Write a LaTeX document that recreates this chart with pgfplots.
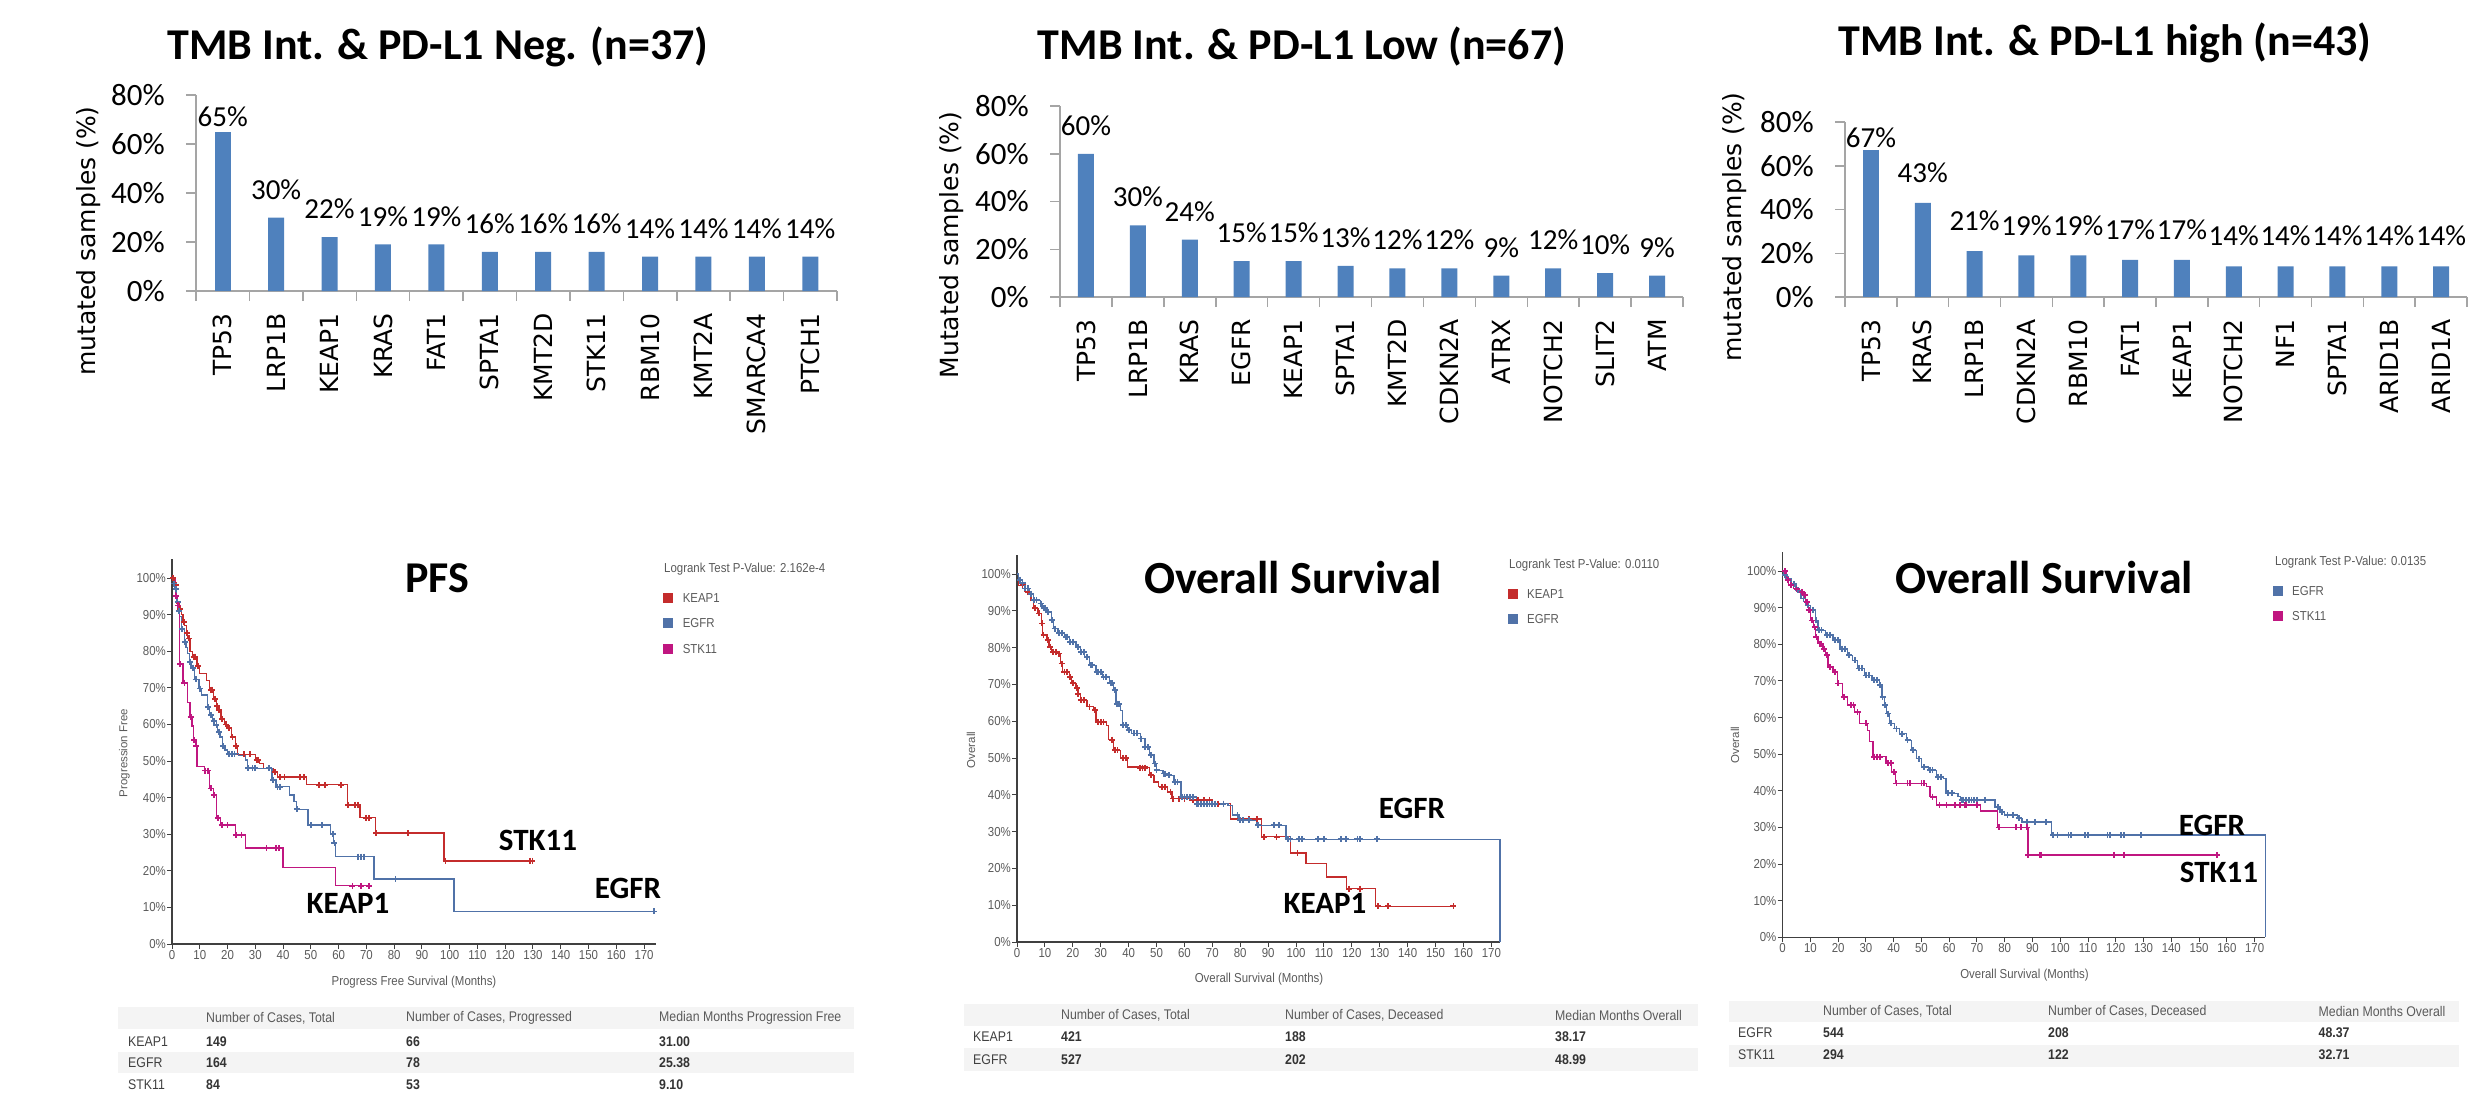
\documentclass[border=0pt]{standalone}
\usepackage{fontspec}
\usepackage{pgfplots}
\pgfplotsset{compat=1.18}
\setmainfont{Carlito}
\newfontfamily\verd{DejaVu Sans}
\newfontfamily\narrow[FakeStretch=0.88]{Liberation Sans}
\newfontfamily\arial{Liberation Sans}
\newcommand{\fsz}[1]{\fontsize{#1pt}{#1pt}\selectfont}
\definecolor{barblue}{RGB}{79,129,189}
\definecolor{kred}{RGB}{196,44,44}
\definecolor{kblue}{RGB}{80,114,168}
\definecolor{kmag}{RGB}{192,22,128}
\definecolor{axgray}{RGB}{165,165,165}
\definecolor{tgray}{RGB}{90,90,90}
\definecolor{band}{RGB}{244,244,244}
\pgfplotsset{
  barchart/.style={
    scale only axis, anchor=south west,
    ybar, bar width=16pt, bar shift=0pt,
    ymin=0, ymax=80, ytick={0,20,...,80},
    yticklabel={\pgfmathprintnumber{\tick}\%},
    xmin=-0.5, xmax=11.5, xtick={-0.5,0.5,...,11.5}, x tick label as interval,
    axis x line*=bottom, axis y line*=left,
    axis line style={axgray, line width=1.5pt},
    tick style={axgray, line width=1.5pt},
    tick align=outside, major tick length=10pt,
    /pgf/number format/assume math mode=true,
    yticklabel style={font=\fsz{31}, inner sep=0pt, xshift=-21pt},
    xticklabel style={font=\verd\fsz{25}, yshift=-12pt, rotate=90, anchor=east, inner sep=0pt},
    nodes near coords={\pgfmathprintnumber{\pgfplotspointmeta}\%},
    every node near coord/.append style={font=\fsz{29}, anchor=south, inner sep=0pt},
  },
  km/.style={
    scale only axis, anchor=south west, clip=false,
    xmin=0, ymin=0, ymax=105.2,
    axis x line*=bottom, axis y line*=left,
    axis line style={black!75, line width=1.2pt},
    xtick={0,10,...,170}, ytick={0,10,...,100},
    yticklabel={\pgfmathprintnumber{\tick}\%},
    tick align=outside, major tick length=5pt, tick style={black!75, line width=1pt},
    tick label style={font=\narrow\fsz{13}, text=tgray, inner sep=1pt},
    /pgf/number format/assume math mode=true,
  },
  kmline/.style={#1, line width=1.3pt, no marks, const plot},
  kmcens/.style={#1, only marks, mark=+, mark size=3pt, mark options={line width=1.8pt}},
}
\begin{document}
\begin{tikzpicture}
\path[use as bounding box] (0pt,0pt) rectangle (2471pt,-1100pt);

% ---------------- bar chart 1 ----------------
\node[font=\bfseries\fsz{44}] at (438pt,-47pt) {TMB Int. \& PD-L1 Neg. (n=37)};
\node[font=\verd\fsz{25}, rotate=90] at (89pt,-241pt) {mutated samples (\%)};
\begin{axis}[barchart, at={(196pt,-291pt)}, width=641pt, height=196pt,
  xticklabels={TP53,LRP1B,KEAP1,KRAS,FAT1,SPTA1,KMT2D,STK11,RBM10,KMT2A,SMARCA4,PTCH1}]
\addplot[fill=barblue, draw=none, nodes near coords style={yshift=5pt}] coordinates {(0,65)};
\addplot[fill=barblue, draw=none, nodes near coords style={yshift=18pt}] coordinates {(1,30)(2,22)(3,19)(4,19)(5,16)(6,16)(7,16)(8,14)(9,14)(10,14)(11,14)};
\end{axis}

% ---------------- bar chart 2 ----------------
\node[font=\bfseries\fsz{44}] at (1302pt,-47pt) {TMB Int. \& PD-L1 Low (n=67)};
\node[font=\verd\fsz{25}, rotate=90] at (952pt,-245pt) {Mutated samples (\%)};
\begin{axis}[barchart, at={(1060pt,-297pt)}, width=623pt, height=191pt,
  xticklabels={TP53,LRP1B,KRAS,EGFR,KEAP1,SPTA1,KMT2D,CDKN2A,ATRX,NOTCH2,SLIT2,ATM}]
\addplot[fill=barblue, draw=none, nodes near coords style={yshift=18pt}] coordinates {(0,60)(1,30)(2,24)(3,15)(4,15)(5,13)(6,12)(7,12)(8,9)(9,12)(10,10)(11,9)};
\end{axis}

% ---------------- bar chart 3 ----------------
\node[font=\bfseries\fsz{44}] at (2105pt,-43pt) {TMB Int. \& PD-L1 high (n=43)};
\node[font=\verd\fsz{25}, rotate=90] at (1735pt,-227pt) {mutated samples (\%)};
\begin{axis}[barchart, at={(1845pt,-297pt)}, width=622pt, height=175pt,
  xticklabels={TP53,KRAS,LRP1B,CDKN2A,RBM10,FAT1,KEAP1,NOTCH2,NF1,SPTA1,ARID1B,ARID1A}]
\addplot[fill=barblue, draw=none, nodes near coords style={yshift=3pt}] coordinates {(0,67)};
\addplot[fill=barblue, draw=none, nodes near coords style={yshift=20pt}] coordinates {(1,43)(2,21)(3,19)(4,19)(5,17)(6,17)(7,14)(8,14)(9,14)(10,14)(11,14)};
\end{axis}

% ---------------- KM 1: PFS ----------------
\begin{axis}[km, at={(172pt,-944pt)}, width=484pt, height=385pt, xmax=174.3]
\addplot[kmline=kred] coordinates {(0,100)(1,98)(1.7,93)(2.5,91.5)(3.3,90)(4,88)(4.6,87)(5.2,85)(5.7,83.5)(6.5,80)(7.5,78.5)(9,76)(10,74)(12.5,72)(13.5,69.5)(15,67)(16,65)(16.7,64)(17.6,61.5)(19,60)(20,59)(21.5,56.5)(22.8,54)(23.7,51.8)(30,50.3)(31.4,49.4)(32.9,48)(36.5,47)(38,45.6)(48.5,43.5)(63.2,38)(67.7,34.5)(73.3,30.3)(98,22.7)(129.8,22.7)};
\addplot[kmcens=kred] coordinates {(0.5,100)(1.5,98)(3,91.5)(4.3,88)(5.5,85)(6,83.5)(7.8,78.5)(8.3,78.5)(9.5,76)(14,69.5)(14.5,69.5)(15.5,67)(16.3,65)(17,64)(18,61.5)(19.5,60)(20.5,59)(21.8,56.5)(23,54)(26,51.8)(28,51.8)(30.5,50.3)(31,50.3)(35,48)(37,47)(39,45.6)(40.5,45.6)(46,45.6)(47.5,45.6)(53,43.5)(55,43.5)(61,43.5)(63.5,38)(66,38)(67,38)(70,34.5)(71,34.5)(73.5,30.3)(85,30.3)(98.5,22.7)(129,22.7)(129.8,22.7)};
\addplot[kmline=kblue] coordinates {(0,100)(0.5,98.5)(1.1,97)(1.7,93.5)(2.2,91)(2.8,89.5)(3.5,86)(4.4,82.5)(5,81)(5.7,79.4)(6.4,77)(6.8,75.5)(8,72.3)(9.7,69.8)(10.5,68)(12.7,64.8)(13.6,62.5)(14.5,61)(15.4,59.8)(16.3,58)(17.3,56.6)(18.2,54)(19.1,53)(20,52)(24,51.6)(26.4,50.3)(27.2,48)(36,44.8)(37.5,43)(42.2,40.7)(43.9,38.9)(44.8,36.8)(49,32.5)(57,30.1)(58.2,27.5)(59,23.9)(72.7,17.8)(101.5,8.9)(174,8.9)};
\addplot[kmcens=kblue] coordinates {(0.8,98.5)(1.3,97)(2,93.5)(2.5,91)(3.7,86)(4.6,82.5)(6.5,77)(7.5,75.5)(8.5,72.3)(10,69.8)(13,64.8)(14,62.5)(15,61)(16,59.8)(17,58)(18.5,54)(20.5,52)(21.5,52)(22.5,52)(27.5,48)(29,48)(30,48)(35,48)(36.5,44.8)(38,43)(39,43)(45,36.8)(50,32.5)(54,32.5)(58,30.1)(58.5,27.5)(67,23.9)(68,23.9)(69,23.9)(80.5,17.8)(173.5,8.9)};
\addplot[kmline=kmag] coordinates {(0,100)(1.3,95)(2,92.5)(2.6,76.5)(4,71.4)(5.5,66)(6.5,62)(7.2,59.6)(7.7,55.7)(8.6,54.2)(9,48.5)(11.8,47.4)(13.6,42.5)(14.9,40.7)(16,34.5)(17.5,32.5)(22.8,29.8)(26.5,26.2)(40,20.9)(58.8,15.9)(71.1,15.9)};
\addplot[kmcens=kmag] coordinates {(1.5,95)(2.2,92.5)(3,76.5)(4.5,71.4)(6.7,62)(8,55.7)(8.8,54.2)(12,47.4)(13,47.4)(14,42.5)(15.2,40.7)(16.5,34.5)(18,32.5)(20,32.5)(23,29.8)(25,29.8)(34,26.2)(37.5,26.2)(38.5,26.2)(65,15.9)(68,15.9)(71,15.9)};
\end{axis}
\node[font=\bfseries\fsz{44}] at (437pt,-578pt) {PFS};
\node[font=\bfseries\fsz{31}] at (538pt,-840pt) {STK11};
\node[font=\bfseries\fsz{31}] at (628pt,-888pt) {EGFR};
\node[font=\bfseries\fsz{31}] at (348pt,-903pt) {KEAP1};
\node[font=\narrow\fsz{13}, text=tgray, anchor=west, inner sep=0pt] at (664pt,-569pt) {Logrank Test P-Value: 2.162e-4};
\fill[kred] (662.6pt,-593pt) rectangle (672.6pt,-603pt);
\fill[kblue] (662.6pt,-618pt) rectangle (672.6pt,-628pt);
\fill[kmag] (662.6pt,-644pt) rectangle (672.6pt,-654pt);
\node[font=\narrow\fsz{13}, text=tgray, anchor=west, inner sep=0pt] at (682.6pt,-598pt) {KEAP1};
\node[font=\narrow\fsz{13}, text=tgray, anchor=west, inner sep=0pt] at (682.6pt,-623pt) {EGFR};
\node[font=\narrow\fsz{13}, text=tgray, anchor=west, inner sep=0pt] at (682.6pt,-649pt) {STK11};
\node[font=\narrow\fsz{13}, text=tgray] at (414pt,-982pt) {Progress Free Survival (Months)};
\node[font=\arial\fsz{11.5}, text=tgray, rotate=90] at (124.5pt,-753pt) {Progression Free};

% ---------------- KM 2: OS KEAP1 vs EGFR ----------------
\begin{axis}[km, at={(1017pt,-942pt)}, width=483pt, height=387pt, xmax=173.1]
\addplot[kmline=kred] coordinates {(0,100)(0.5,97)(2.7,95.2)(5,92.9)(5.9,90.7)(7.5,89.3)(8.8,86.6)(9.1,83.5)(10.7,82)(11.5,80.2)(12.3,78.9)(14.7,78.4)(15.5,75.7)(16.3,73.4)(18.7,72.1)(19.5,70.3)(21.1,69)(21.9,67.5)(22.7,65.7)(25.1,64)(27.5,63)(28.3,59.8)(32,58.9)(32.8,55)(34.7,52.1)(37.1,50)(39.5,47.6)(46.7,47.4)(47.5,45.3)(49.1,43.5)(50.7,42.2)(54,40.8)(55.5,39)(62,38.5)(70,37.6)(76.4,33.4)(87.6,28.6)(98,24.2)(103.6,21.3)(110.8,17.7)(118,14.5)(128.4,9.7)(156.4,9.7)};
\addplot[kmcens=kred] coordinates {(2,97)(4,95.2)(6.5,90.7)(8,89.3)(9,86.6)(9.5,83.5)(11,82)(12,80.2)(13,78.9)(14,78.9)(15,78.4)(16,75.7)(17,73.4)(18,73.4)(19,72.1)(20,70.3)(21.5,69)(22,67.5)(23,65.7)(24,65.7)(26,64)(28,63)(29,59.8)(30,59.8)(31,59.8)(34,55)(35,52.1)(36,52.1)(38,50)(39,50)(44,47.4)(45,47.4)(46,47.4)(48,45.3)(52,42.2)(53,42.2)(55,40.8)(56,39)(58,39)(60,39)(63,38.5)(65,38.5)(67,38.5)(69,38.5)(72,37.6)(74,37.6)(83,33.4)(86,33.4)(88.5,28.6)(93,28.6)(100.5,24.2)(119,14.5)(123,14.5)(129.5,9.7)(133,9.7)(156.4,9.7)};
\addplot[kmline=kblue] coordinates {(0,100)(0.5,98.5)(1.1,97.5)(2.7,96.1)(4.3,94.7)(5.9,92.9)(8.3,92)(9.1,90.7)(10.7,89.8)(12.3,87.5)(13.1,85.2)(14.7,83.9)(17.1,83)(18.7,81.6)(21.1,80.2)(22.7,78.9)(24.3,77.5)(25.9,75.2)(28.3,73.4)(30.7,72.1)(33.1,70.3)(34.7,68.4)(35.5,64.8)(37.1,63)(37.9,58.9)(39.5,57.6)(41.1,56.7)(44.3,55.3)(45.9,53)(47.5,50.8)(49.1,48.5)(49.9,46.7)(52.3,45.8)(54,45.3)(56.3,43.5)(58.8,39.4)(64.4,37.6)(75.6,37.2)(77.2,34.5)(79.6,33.1)(86,31.7)(96.4,27.9)(173.1,27.9)(173.1,0)};
\addplot[kmcens=kblue] coordinates {(1,98.5)(2,97.5)(3,96.1)(4,96.1)(5,94.7)(6,92.9)(7,92.9)(8.5,92)(9.5,90.7)(10,90.7)(11,89.8)(12.5,87.5)(13.5,85.2)(15,83.9)(16,83.9)(17.5,83)(18,83)(19,81.6)(20,81.6)(22,80.2)(23,78.9)(24,78.9)(25,77.5)(26.5,75.2)(27,75.2)(28.5,73.4)(29,73.4)(30,73.4)(31,72.1)(32,72.1)(33.5,70.3)(34,70.3)(35,68.4)(35.8,64.8)(36.5,64.8)(38,58.9)(39,58.9)(40,57.6)(42,56.7)(43,56.7)(44.5,55.3)(46,53)(47,53)(48,50.8)(49.5,48.5)(50,46.7)(52.5,45.8)(53,45.8)(54.5,45.3)(56.5,43.5)(57.5,43.5)(59,39.4)(60,39.4)(61,39.4)(62,39.4)(63,39.4)(64.5,37.6)(65,37.6)(66,37.6)(67,37.6)(68,37.6)(69,37.6)(70,37.6)(71,37.6)(74,37.6)(79,34.5)(80,33.1)(81,33.1)(83,33.1)(86.5,31.7)(92,31.7)(94,31.7)(97,27.9)(98,27.9)(101,27.9)(102,27.9)(108,27.9)(110,27.9)(116,27.9)(118,27.9)(122,27.9)(123,27.9)(129,27.9)};
\end{axis}
\node[font=\bfseries\fsz{46}] at (1293pt,-578pt) {Overall Survival};
\node[font=\bfseries\fsz{31}] at (1412pt,-808pt) {EGFR};
\node[font=\bfseries\fsz{31}] at (1325pt,-903pt) {KEAP1};
\node[font=\narrow\fsz{13}, text=tgray, anchor=west, inner sep=0pt] at (1509pt,-565pt) {Logrank Test P-Value: 0.0110};
\fill[kred] (1507.5pt,-589pt) rectangle (1517.5pt,-599pt);
\fill[kblue] (1507.5pt,-614pt) rectangle (1517.5pt,-624pt);
\node[font=\narrow\fsz{13}, text=tgray, anchor=west, inner sep=0pt] at (1527pt,-594pt) {KEAP1};
\node[font=\narrow\fsz{13}, text=tgray, anchor=west, inner sep=0pt] at (1527pt,-619pt) {EGFR};
\node[font=\narrow\fsz{13}, text=tgray] at (1259pt,-979pt) {Overall Survival (Months)};
\node[font=\arial\fsz{11.5}, text=tgray, rotate=90] at (971pt,-750pt) {Overall};

% ---------------- KM 3: OS EGFR vs STK11 ----------------
\begin{axis}[km, at={(1782.6pt,-937.3pt)}, width=482.8pt, height=385.3pt, xmax=173.9]
\addplot[kmline=kblue] coordinates {(0,100)(0.5,99)(1.2,97.9)(3,96.5)(4.8,94.7)(6.6,92.5)(8.3,90.6)(10.1,89.3)(11.9,86.5)(12.7,83.8)(15.4,82.5)(18.1,81.1)(20.7,78.8)(23.4,77)(25.1,75.6)(26.9,73.4)(29.6,71.5)(32.2,70.2)(34.9,68.8)(35.8,65.6)(36.6,63.4)(37.5,61.1)(38.4,58.4)(40.2,57)(42,55.6)(44.6,53.8)(46.4,51.1)(48.2,48.8)(50,46.5)(52.6,45.6)(55.3,43.8)(57.9,43.4)(58.8,39.3)(63.2,38.4)(64.1,37.5)(76.5,35.6)(78.3,34.3)(80,33.4)(84.5,32.5)(86.2,31.5)(96.9,27.9)(173.9,27.9)(173.9,0)};
\addplot[kmcens=kblue] coordinates {(1,99)(2,97.9)(4,96.5)(5.5,94.7)(7.5,92.5)(9,90.6)(11,89.3)(12,86.5)(13,83.8)(14,83.8)(16,82.5)(17,82.5)(19,81.1)(20,81.1)(21.5,78.8)(22.5,78.8)(24,77)(26,75.6)(27.5,73.4)(28.5,73.4)(30,71.5)(31,71.5)(33,70.2)(34,70.2)(35.2,68.8)(36,65.6)(37,63.4)(38,61.1)(39,58.4)(41,57)(43,55.6)(45,53.8)(47,51.1)(49,48.8)(51,46.5)(53,45.6)(54,45.6)(56,43.8)(57,43.8)(59.5,39.3)(61,39.3)(64.5,37.5)(65,37.5)(66,37.5)(67,37.5)(68,37.5)(69,37.5)(70,37.5)(73,37.5)(77.5,35.6)(79,34.3)(81,33.4)(83,33.4)(85,32.5)(88,31.5)(91,31.5)(95,31.5)(97.5,27.9)(99,27.9)(103,27.9)(104,27.9)(109,27.9)(110,27.9)(117,27.9)(118,27.9)(122,27.9)(123,27.9)(129,27.9)};
\addplot[kmline=kmag] coordinates {(0,100)(1.2,97.5)(2.1,96.1)(3.9,95.2)(5.7,94.3)(7.4,93.4)(8.3,91.5)(9.2,89.3)(10.1,86.5)(11,84.7)(11.9,82)(12.7,80.2)(14.5,78.8)(15.4,77)(16.3,73.8)(18.1,72.5)(19.8,69.3)(21.6,65.6)(23.4,63.4)(26,61.5)(27.8,58.4)(30.5,56.5)(31.3,53.4)(32.6,49.3)(37.2,47.5)(39.3,45.2)(40.7,42)(51.7,41.1)(53.1,38.4)(55.3,36.1)(71.2,34.5)(77.4,30)(88.4,22.5)(156.5,22.5)};
\addplot[kmcens=kmag] coordinates {(1,100)(2,97.5)(3,96.1)(5,95.2)(7,94.3)(8,93.4)(8.7,91.5)(9.5,89.3)(10.5,86.5)(11.5,84.7)(12.2,82)(13.5,80.2)(14,80.2)(15,78.8)(16,77)(17,73.8)(19,72.5)(20,69.3)(22,65.6)(24.5,63.4)(25.5,63.4)(27,61.5)(30,58.4)(33,49.3)(34,49.3)(35,49.3)(38,47.5)(39,47.5)(40,45.2)(41,42)(45,42)(46,42)(50,42)(51,42)(54,38.4)(56.5,36.1)(59,36.1)(62,36.1)(64,36.1)(65.5,36.1)(66,36.1)(70,36.1)(78,30)(84,30)(86,30)(88,30)(88.5,22.5)(92.5,22.5)(93,22.5)(119.5,22.5)(123,22.5)(156.5,22.5)};
\end{axis}
\node[font=\bfseries\fsz{46}] at (2044pt,-578pt) {Overall Survival};
\node[font=\bfseries\fsz{31}] at (2212pt,-825pt) {EGFR};
\node[font=\bfseries\fsz{31}] at (2219pt,-872pt) {STK11};
\node[font=\narrow\fsz{13}, text=tgray, anchor=west, inner sep=0pt] at (2275pt,-562pt) {Logrank Test P-Value: 0.0135};
\fill[kblue] (2273pt,-586pt) rectangle (2283pt,-596pt);
\fill[kmag] (2273pt,-611pt) rectangle (2283pt,-621pt);
\node[font=\narrow\fsz{13}, text=tgray, anchor=west, inner sep=0pt] at (2292pt,-591pt) {EGFR};
\node[font=\narrow\fsz{13}, text=tgray, anchor=west, inner sep=0pt] at (2292pt,-616pt) {STK11};
\node[font=\narrow\fsz{13}, text=tgray] at (2024.5pt,-975pt) {Overall Survival (Months)};
\node[font=\arial\fsz{11.5}, text=tgray, rotate=90] at (1735pt,-745pt) {Overall};

% ---------------- tables ----------------
\tikzset{th/.style={font=\narrow\fsz{14}, text=tgray, anchor=west, inner sep=0pt},
         tl/.style={font=\narrow\fsz{14}, text=black!75, anchor=west, inner sep=0pt},
         tv/.style={font=\narrow\bfseries\fsz{14}, text=black!80, anchor=west, inner sep=0pt}}
% table 1
\fill[band] (118pt,-1007pt) rectangle (854pt,-1029pt);
\fill[band] (118pt,-1052pt) rectangle (854pt,-1073pt);
\node[th] at (206pt,-1018pt) {Number of Cases, Total};
\node[th] at (406pt,-1018pt) {Number of Cases, Progressed};
\node[th] at (659pt,-1018pt) {Median Months Progression Free};
\node[tl] at (128pt,-1042pt) {KEAP1}; \node[tv] at (206pt,-1042pt) {149}; \node[tv] at (406pt,-1042pt) {66}; \node[tv] at (659pt,-1042pt) {31.00};
\node[tl] at (128pt,-1063pt) {EGFR}; \node[tv] at (206pt,-1063pt) {164}; \node[tv] at (406pt,-1063pt) {78}; \node[tv] at (659pt,-1063pt) {25.38};
\node[tl] at (128pt,-1085pt) {STK11}; \node[tv] at (206pt,-1085pt) {84}; \node[tv] at (406pt,-1085pt) {53}; \node[tv] at (659pt,-1085pt) {9.10};
% table 2
\fill[band] (964pt,-1004pt) rectangle (1698pt,-1026pt);
\fill[band] (964pt,-1048pt) rectangle (1698pt,-1071pt);
\node[th] at (1061pt,-1015pt) {Number of Cases, Total};
\node[th] at (1285pt,-1015pt) {Number of Cases, Deceased};
\node[th] at (1555pt,-1015pt) {Median Months Overall};
\node[tl] at (973pt,-1037pt) {KEAP1}; \node[tv] at (1061pt,-1037pt) {421}; \node[tv] at (1285pt,-1037pt) {188}; \node[tv] at (1555pt,-1037pt) {38.17};
\node[tl] at (973pt,-1060pt) {EGFR}; \node[tv] at (1061pt,-1060pt) {527}; \node[tv] at (1285pt,-1060pt) {202}; \node[tv] at (1555pt,-1060pt) {48.99};
% table 3
\fill[band] (1729pt,-1001pt) rectangle (2459pt,-1022pt);
\fill[band] (1729pt,-1045pt) rectangle (2459pt,-1067pt);
\node[th] at (1823pt,-1011pt) {Number of Cases, Total};
\node[th] at (2048pt,-1011pt) {Number of Cases, Deceased};
\node[th] at (2318.5pt,-1011pt) {Median Months Overall};
\node[tl] at (1738pt,-1033pt) {EGFR}; \node[tv] at (1823pt,-1033pt) {544}; \node[tv] at (2048pt,-1033pt) {208}; \node[tv] at (2318.5pt,-1033pt) {48.37};
\node[tl] at (1738pt,-1055pt) {STK11}; \node[tv] at (1823pt,-1055pt) {294}; \node[tv] at (2048pt,-1055pt) {122}; \node[tv] at (2318.5pt,-1055pt) {32.71};
\end{tikzpicture}
\end{document}
